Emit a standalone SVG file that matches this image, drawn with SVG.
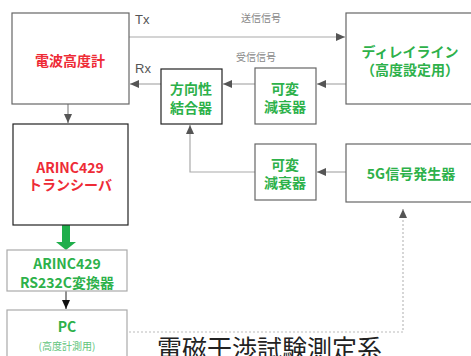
<svg xmlns="http://www.w3.org/2000/svg" width="471" height="356" viewBox="0 0 471 356">
<style>
.box{fill:#fff;stroke:#666;stroke-width:1.2}
.dark{stroke:#222}
.light{stroke:#aaa}
.t{font-family:"Noto Sans CJK JP","Noto Sans",sans-serif;text-anchor:middle;dominant-baseline:central}
.g{fill:#2db14a;font-weight:bold;font-size:14px}
.r{fill:#ee2b36;font-weight:bold;font-size:14px}
.lbl{font-family:"Noto Sans CJK JP","Noto Sans",sans-serif;fill:#888;font-size:10px}
.io{font-family:"Liberation Sans","Noto Sans",sans-serif;fill:#555;font-size:13px}
.ln{fill:none;stroke:#aaa;stroke-width:1.2}
.ln2{fill:none;stroke:#888;stroke-width:1.2}
</style>
<defs>
<marker id="ah" markerWidth="10" markerHeight="10" refX="9" refY="5" orient="auto" markerUnits="userSpaceOnUse">
<path d="M0,1 L9,5 L0,9 z" fill="#555"/>
</marker>
<marker id="ahb" markerWidth="10" markerHeight="10" refX="9" refY="5" orient="auto" markerUnits="userSpaceOnUse">
<path d="M0,1 L9,5 L0,9 z" fill="#111"/>
</marker>
</defs>
<rect width="471" height="356" fill="#fff"/>

<g id="connectors">
<line class="ln" x1="129" y1="37" x2="345" y2="37" marker-end="url(#ah)"/>
<line class="ln" x1="161" y1="84" x2="130" y2="84" marker-end="url(#ah)"/>
<line class="ln" x1="255" y1="84" x2="223" y2="84" marker-end="url(#ah)"/>
<line class="ln" x1="346" y1="84" x2="317" y2="84" marker-end="url(#ah)"/>
<line class="ln" x1="346" y1="172" x2="317" y2="172" marker-end="url(#ah)"/>
<polyline class="ln" points="255,172 190,172 190,125" marker-end="url(#ah)"/>
<line class="ln2" x1="68" y1="104" x2="68" y2="123" marker-end="url(#ah)"/>
<polyline fill="none" stroke="#bbb" stroke-width="1.2" stroke-dasharray="2,2" points="129,332 403,332 403,209" marker-end="url(#ah)"/>
<line x1="66" y1="291" x2="66" y2="309" stroke="#222" stroke-width="1" marker-end="url(#ahb)"/>
<path d="M62,225 H70 V242 H76 L66,250 L56,242 H62 Z" fill="#1fae4b"/>
<text class="io" x="135" y="24">Tx</text>
<text class="io" x="135" y="73">Rx</text>
<text class="lbl" x="261" y="22" text-anchor="middle">送信信号</text>
<text class="lbl" x="256" y="61" text-anchor="middle">受信信号</text>
</g>

<g id="radio-altimeter">
<rect class="box" x="12" y="13" width="117" height="91"/>
<text class="t r" x="70" y="60" font-size="15">電波高度計</text>
</g>
<g id="coupler">
<rect class="box dark" x="161" y="69" width="61" height="55"/>
<text class="t g" x="191" y="88">方向性</text>
<text class="t g" x="191" y="107">結合器</text>
</g>
<g id="attenuator1">
<rect class="box" x="255" y="68" width="61" height="56"/>
<text class="t g" x="285" y="88">可変</text>
<text class="t g" x="285" y="106">減衰器</text>
</g>
<g id="delay-line">
<rect class="box" x="346" y="13" width="140" height="91"/>
<text class="t g" x="410" y="51">ディレイライン</text>
<text class="t g" x="410" y="69">（高度設定用）</text>
</g>
<g id="attenuator2">
<rect class="box" x="255" y="144" width="61" height="56"/>
<text class="t g" x="285" y="164">可変</text>
<text class="t g" x="285" y="182">減衰器</text>
</g>
<g id="sg5g">
<rect class="box" x="346" y="144" width="140" height="58"/>
<text class="t g" x="411" y="173">5G信号発生器</text>
</g>
<g id="arinc-transceiver">
<rect class="box dark" x="13" y="124" width="115" height="101"/>
<text class="t r" x="70" y="167">ARINC429</text>
<text class="t r" x="70" y="184">トランシーバ</text>
</g>
<g id="converter">
<rect class="box light" x="7" y="250" width="120" height="41"/>
<text class="t g" x="67" y="263">ARINC429</text>
<text class="t g" x="67" y="282">RS232C変換器</text>
</g>
<g id="pc">
<rect class="box light" x="7" y="310" width="120" height="60"/>
<text class="t g" x="67" y="326">PC</text>
<text class="t" x="67" y="345" fill="#5ec47a" font-size="10">(高度計測用)</text>
</g>
<g id="title">
<text x="157" y="358" font-family="Noto Sans CJK JP,sans-serif" font-size="25" fill="#222">電磁干渉試験測定系</text>
</g>
</svg>
